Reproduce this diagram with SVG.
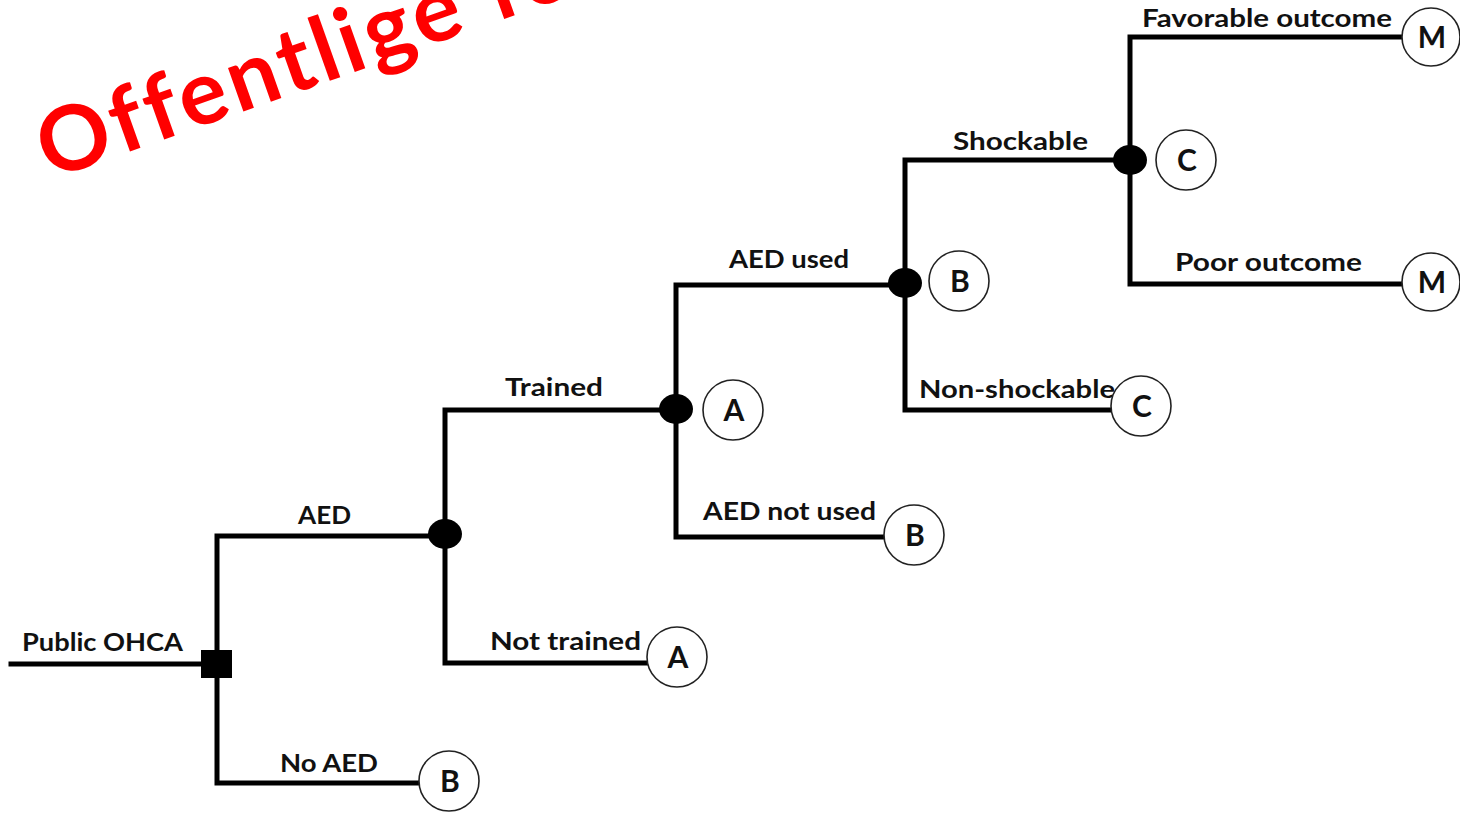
<svg xmlns="http://www.w3.org/2000/svg" width="1460" height="813" viewBox="0 0 1460 813">
<style>
.edge{fill:none;stroke:#000;stroke-width:5;stroke-linejoin:miter;stroke-linecap:square}
.lbl{font-family:Lato,"Open Sans","Liberation Sans",sans-serif;font-weight:bold;font-size:25px;fill:#111}
.term circle{fill:#fff;stroke:#222;stroke-width:1.6}
.term text{font-family:Lato,"Open Sans","Liberation Sans",sans-serif;font-weight:bold;font-size:30px;fill:#111;text-anchor:middle}
.chance{fill:#000}
.wm{font-family:Lato,"Open Sans","Liberation Sans",sans-serif;font-weight:bold;font-size:90px;letter-spacing:4px;fill:#ff0000}
</style>
<rect width="1460" height="813" fill="#fff"/>
<text class="wm" x="50" y="180" transform="rotate(-19.5 50 180)">Offentlige fo</text>
<g id="connectors">
<path class="edge" d="M11 664H217"/>
<path class="edge" d="M445 536H217V783H419"/>
<path class="edge" d="M676 410H445V663H648"/>
<path class="edge" d="M905 285H676V537H885"/>
<path class="edge" d="M1130 160H905V410H1112"/>
<path class="edge" d="M1402 37H1130V284H1402"/>
</g>
<g id="labels">
<text class="lbl" x="1142" y="27" textLength="250" lengthAdjust="spacingAndGlyphs">Favorable outcome</text>
<text class="lbl" x="953" y="150" textLength="135" lengthAdjust="spacingAndGlyphs">Shockable</text>
<text class="lbl" x="1175" y="271" textLength="187" lengthAdjust="spacingAndGlyphs">Poor outcome</text>
<text class="lbl" x="729" y="268" textLength="120" lengthAdjust="spacingAndGlyphs">AED used</text>
<text class="lbl" x="919" y="398" textLength="196" lengthAdjust="spacingAndGlyphs">Non-shockable</text>
<text class="lbl" x="703" y="520" textLength="173" lengthAdjust="spacingAndGlyphs">AED not used</text>
<text class="lbl" x="505" y="396" textLength="98" lengthAdjust="spacingAndGlyphs">Trained</text>
<text class="lbl" x="298" y="524" textLength="53" lengthAdjust="spacingAndGlyphs">AED</text>
<text class="lbl" x="490" y="650" textLength="151" lengthAdjust="spacingAndGlyphs">Not trained</text>
<text class="lbl" x="22" y="651" textLength="161" lengthAdjust="spacingAndGlyphs">Public OHCA</text>
<text class="lbl" x="280" y="772" textLength="98" lengthAdjust="spacingAndGlyphs">No AED</text>
</g>
<g id="decision-root"><rect x="201" y="650" width="31" height="28" fill="#000"/></g>
<g id="chance-aed"><ellipse class="chance" cx="445" cy="534" rx="17" ry="15"/></g>
<g id="chance-trained"><ellipse class="chance" cx="676" cy="409" rx="17" ry="15"/></g>
<g id="chance-aedused"><ellipse class="chance" cx="905" cy="283" rx="17" ry="15"/></g>
<g id="chance-shockable"><ellipse class="chance" cx="1130" cy="160" rx="17" ry="15"/></g>
<g id="term-noaed" class="term"><circle cx="449" cy="781" r="30"/><text x="450" y="792">B</text></g>
<g id="term-nottrained" class="term"><circle cx="677" cy="657" r="30"/><text x="678" y="668">A</text></g>
<g id="term-trained" class="term"><circle cx="733" cy="410" r="30"/><text x="734" y="421">A</text></g>
<g id="term-aednotused" class="term"><circle cx="914" cy="535" r="30"/><text x="915" y="546">B</text></g>
<g id="term-aedused" class="term"><circle cx="959" cy="281" r="30"/><text x="960" y="292">B</text></g>
<g id="term-nonshock" class="term"><circle cx="1141" cy="406" r="30"/><text x="1142" y="417">C</text></g>
<g id="term-shock" class="term"><circle cx="1186" cy="160" r="30"/><text x="1187" y="171">C</text></g>
<g id="term-fav" class="term"><circle cx="1431" cy="37" r="29"/><text x="1432" y="48">M</text></g>
<g id="term-poor" class="term"><circle cx="1431" cy="282" r="29"/><text x="1432" y="293">M</text></g>
</svg>
